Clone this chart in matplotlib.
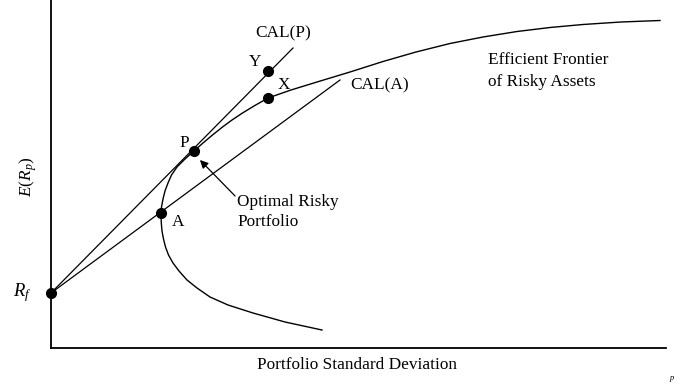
import matplotlib
matplotlib.use("Agg")
import matplotlib.pyplot as plt

plt.rcParams['font.family'] = ['Liberation Serif', 'DejaVu Serif']
plt.rcParams['mathtext.fontset'] = 'custom'
plt.rcParams['mathtext.rm'] = 'Liberation Serif'
plt.rcParams['mathtext.it'] = 'Liberation Serif:italic'

# efficient frontier (risk, return)
frontier_sd = [271, 234, 202, 177, 159, 146, 136, 128, 122, 117.5, 114.5, 112.5, 111, 110.3, 110,
               110.5, 112, 114, 117, 120.5, 126, 134, 143,
               152, 161.5, 171.5, 181, 191.5, 203, 217,
               240, 266, 299, 332, 365, 399, 432, 466, 499, 532, 570, 609]
frontier_er = [18, 26, 35, 43, 51, 60, 68, 77, 85, 93, 101, 109, 117, 125, 133,
               141, 149, 157, 165, 173, 181, 189, 197,
               205, 213, 221, 228, 235, 242, 250,
               258, 266, 276, 286.5, 296, 304.5, 311, 316.5, 320.5, 323.5, 326, 327.5]

rf = (0, 55)
points = {'A': (110, 135), 'P': (143, 197), 'X': (217, 250), 'Y': (217, 277)}
cal_p_end = (242, 300)
cal_a_end = (289, 268)

fig = plt.figure(figsize=(6.85, 3.84), dpi=100)
ax = fig.add_axes([51 / 685, 36 / 384, 615 / 685, 348 / 384])
ax.set_xlim(0, 615)
ax.set_ylim(0, 348)
for s in ['top', 'right']:
    ax.spines[s].set_visible(False)
for s in ['left', 'bottom']:
    ax.spines[s].set_linewidth(1.3)
ax.set_xticks([])
ax.set_yticks([])

ax.plot(frontier_sd, frontier_er, color='black', lw=1.0)
ax.plot([rf[0], cal_p_end[0]], [rf[1], cal_p_end[1]], color='black', lw=0.9)
ax.plot([rf[0], cal_a_end[0]], [rf[1], cal_a_end[1]], color='black', lw=0.9)

ax.plot(rf[0], rf[1], 'o', color='black', ms=7, clip_on=False, zorder=5)
for k, (x, y) in points.items():
    ax.plot(x, y, 'o', color='black', ms=7, zorder=5)

fs = 12.4
ax.text(133, 205, 'P', fontsize=fs, ha='center', va='center')
ax.text(127, 126, 'A', fontsize=fs, ha='center', va='center')
ax.text(233, 263, 'X', fontsize=fs, ha='center', va='center')
ax.text(204, 286, 'Y', fontsize=fs, ha='center', va='center')
ax.text(232, 315, 'CAL(P)', fontsize=fs, ha='center', va='center')
ax.text(299, 263, 'CAL(A)', fontsize=fs, ha='left', va='center')
ax.text(437, 277, 'Efficient Frontier\nof Risky Assets', fontsize=fs, ha='left', va='center',
        linespacing=1.45)
ax.text(186, 136, 'Optimal Risky\nPortfolio', fontsize=fs, ha='left', va='center', linespacing=1.4)
ax.annotate('', xy=(147, 190), xytext=(186, 150),
            arrowprops=dict(arrowstyle='-|>', color='black', lw=0.9, mutation_scale=12))

fig.text(28 / 685, 1 - 177 / 384, '$E(R_p)$', fontsize=fs, rotation=90, ha='center', va='center')
fig.text(22 / 685, 1 - 293 / 384, '$R_f$', fontsize=fs + 1, ha='center', va='center')
fig.text(357 / 685, 1 - 365 / 384, 'Portfolio Standard Deviation', fontsize=fs, ha='center', va='center')
fig.text(672 / 685, 1 - 378 / 384, 'p', fontsize=6, style='italic', ha='center', va='center')

fig.savefig('out.png', dpi=100)
